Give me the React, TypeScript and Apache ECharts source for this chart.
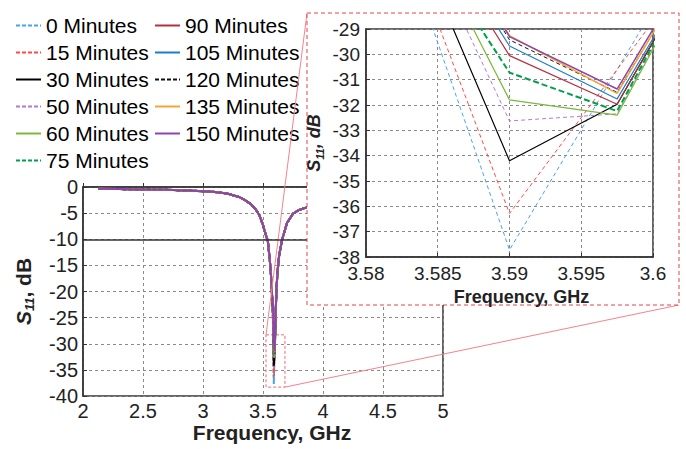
import React, { useEffect, useRef } from 'react';
import * as echarts from 'echarts';

const seriesNames = [
  '0 Minutes', '15 Minutes', '30 Minutes', '50 Minutes', '60 Minutes', '75 Minutes',
  '90 Minutes', '105 Minutes', '120 Minutes', '135 Minutes', '150 Minutes',
];
const lineColors = [
  '#4aa3e8', '#ff4848', '#000000', '#b07ccc', '#7cb83a', '#00a04a',
  '#b8303f', '#1a7fc8', '#111111', '#f0a830', '#8e44ad',
];
const lineDashed = [true, true, false, true, false, true, false, false, true, false, false];
const insetWidths = [1, 1, 1.2, 1, 1.2, 2, 1.2, 1.2, 1, 1.5, 1.5];

// common part of the response (all series overlap here)
const freqLeft = [2.13, 2.3, 2.5, 2.7, 2.9, 3.0, 3.1, 3.2, 3.3, 3.35, 3.4, 3.44, 3.47, 3.5, 3.52, 3.54, 3.555, 3.567, 3.575];
const s11Left = [-0.35, -0.4, -0.48, -0.55, -0.7, -0.8, -0.95, -1.25, -1.9, -2.5, -3.3, -4.3, -5.4, -7.3, -8.9, -10.3, -13.5, -17.0, -20.5];
// resonance region, one row per series
const freqNear = [3.5825, 3.59, 3.5975, 3.605];
const s11Near = [
  [-25.45, -37.72, -30.6, -23.5],
  [-25.0, -36.28, -30.6, -24.9],
  [-24.25, -34.2, -31.97, -24.6],
  [-23.56, -32.63, -32.35, -24.5],
  [-23.47, -31.8, -32.4, -24.6],
  [-24.2, -30.72, -32.24, -24.4],
  [-23.3, -30.05, -31.97, -24.5],
  [-23.0, -29.67, -31.76, -24.6],
  [-22.5, -29.43, -31.5, -24.5],
  [-22.3, -29.26, -31.54, -24.4],
  [-22.3, -29.3, -31.37, -24.3],
];
const freqRight = [3.6125, 3.62, 3.635, 3.66, 3.7, 3.75, 3.8, 3.85, 3.9, 4.0, 4.25, 4.5, 4.75, 5.0];
const s11Right = [-19.5, -16.5, -13, -10, -6.9, -5.1, -4.4, -4.0, -3.8, -3.6, -3.2, -2.9, -2.7, -2.5];

const mainXTicks = { min: 2, max: 5, interval: 0.5 };
const mainYTicks = { min: -40, max: 0, interval: 5 };
const insetXTicks = { min: 3.58, max: 3.6, interval: 0.005 };
const insetYTicks = { min: -38, max: -29, interval: 1 };
const thresholdDb = -10;
const zoomBox = { x0: 3.525, x1: 3.683, y0: -28.3, y1: -38.3 };

const FONT = 'Liberation Sans, Arial, Helvetica, sans-serif';
const MAIN = { left: 83, top: 187, width: 360, height: 209 };
const INSET = { left: 366, top: 29, width: 287, height: 228 };
const FRAME = { x: 307, y: 13, w: 372, h: 292 };

function mainPx(x: number, y: number): [number, number] {
  return [
    MAIN.left + ((x - mainXTicks.min) / (mainXTicks.max - mainXTicks.min)) * MAIN.width,
    MAIN.top + ((mainYTicks.max - y) / (mainYTicks.max - mainYTicks.min)) * MAIN.height,
  ];
}

function seriesData(i: number) {
  return [
    ...freqLeft.map((f, k) => [f, s11Left[k]]),
    ...freqNear.map((f, k) => [f, s11Near[i][k]]),
    ...freqRight.map((f, k) => [f, s11Right[k]]),
  ];
}

const splitStyle = { show: true, lineStyle: { color: '#8a8a8a', width: 1, type: [3, 3] as any } };
const axisLineStyle = { show: true, lineStyle: { color: '#333', width: 1.5 } };
const tickStyle = { show: true, inside: true, length: 4, lineStyle: { color: '#333' } };

function yTitle(size: number, italicDb: boolean) {
  return {
    s: { fontSize: size, fontWeight: 'bold', fontStyle: 'italic', fontFamily: FONT, color: '#222', lineHeight: size + 4 },
    sub: { fontSize: Math.round(size * 0.62), fontWeight: 'bold', fontStyle: 'italic', fontFamily: FONT, color: '#222', lineHeight: Math.round(size * 0.62), verticalAlign: 'bottom' },
    t: { fontSize: size, fontWeight: 'bold', fontStyle: italicDb ? 'italic' : 'normal', fontFamily: FONT, color: '#222', lineHeight: size + 4 },
  };
}

export default function App() {
  const ref = useRef<HTMLDivElement>(null);
  useEffect(() => {
    if (!ref.current) return;
    const chart = echarts.init(ref.current, null, { renderer: 'svg' });
    const series: any[] = [];
    seriesNames.forEach((name, i) => {
      const s: any = {
        name,
        type: 'line',
        xAxisIndex: 0,
        yAxisIndex: 0,
        data: seriesData(i),
        symbol: 'none',
        z: 2,
        lineStyle: { color: lineColors[i], width: 2, type: lineDashed[i] ? [4, 2] : 'solid' },
        itemStyle: { color: lineColors[i] },
      };
      if (i === 0) {
        s.markLine = {
          silent: true,
          symbol: ['none', 'none'],
          label: { show: false },
          lineStyle: { color: '#333', width: 1.5, type: 'solid' },
          data: [{ yAxis: thresholdDb }],
        };
      }
      if (i === seriesNames.length - 1) {
        s.markArea = {
          silent: true,
          itemStyle: { color: 'rgba(0,0,0,0)', borderColor: '#f06a78', borderWidth: 1, borderType: [3, 2] },
          data: [[{ coord: [zoomBox.x0, zoomBox.y0] }, { coord: [zoomBox.x1, zoomBox.y1] }]],
        };
      }
      series.push(s);
    });
    seriesNames.forEach((name, i) => {
      series.push({
        name,
        type: 'line',
        xAxisIndex: 1,
        yAxisIndex: 1,
        data: seriesData(i),
        symbol: 'none',
        z: 12,
        clip: true,
        lineStyle: {
          color: lineColors[i],
          width: insetWidths[i],
          type: lineDashed[i] ? (insetWidths[i] > 1.5 ? [6, 3] : [4, 3]) : 'solid',
        },
        itemStyle: { color: lineColors[i] },
      });
    });

    const p1 = mainPx(zoomBox.x0, zoomBox.y0);
    const p2 = mainPx(zoomBox.x1, zoomBox.y1);

    const legendBase = {
      orient: 'vertical',
      top: 10,
      itemWidth: 25,
      itemHeight: 14,
      itemGap: 6,
      itemStyle: { color: 'rgba(0,0,0,0)', borderWidth: 0, opacity: 0 },
      textStyle: { fontSize: 21, lineHeight: 21, color: '#000', fontFamily: FONT },
    };

    chart.setOption({
      animation: false,
      backgroundColor: '#fff',
      legend: [
        { ...legendBase, left: 10, data: seriesNames.slice(0, 6) },
        { ...legendBase, left: 149, data: seriesNames.slice(6) },
      ],
      grid: [
        { ...MAIN, show: true, borderColor: '#333', borderWidth: 1.5, backgroundColor: 'transparent', z: 0 },
        { ...INSET, show: true, borderColor: '#333', borderWidth: 1.5, backgroundColor: 'transparent', z: 11 },
      ],
      xAxis: [
        {
          type: 'value', gridIndex: 0, ...mainXTicks, z: 0,
          axisLine: axisLineStyle, axisTick: tickStyle, splitLine: splitStyle,
          axisLabel: { fontSize: 20, color: '#222', fontFamily: FONT, margin: 5, showMinLabel: true, showMaxLabel: true, hideOverlap: false },
          name: 'Frequency, GHz', nameLocation: 'middle', nameGap: 26,
          nameTextStyle: { fontSize: 21, fontWeight: 'bold', color: '#222', fontFamily: FONT, padding: [0, 0, 0, 18] },
        },
        {
          type: 'value', gridIndex: 1, ...insetXTicks, z: 11,
          axisLine: axisLineStyle, axisTick: tickStyle, splitLine: splitStyle,
          axisLabel: {
            fontSize: 19, lineHeight: 19, color: '#222', fontFamily: FONT, margin: 7, showMinLabel: true, showMaxLabel: true, hideOverlap: false,
            formatter: (v: number) => String(+v.toFixed(3)),
          },
          name: 'Frequency, GHz', nameLocation: 'middle', nameGap: 24,
          nameTextStyle: { fontSize: 18, fontWeight: 'bold', color: '#222', fontFamily: FONT, padding: [0, 0, 0, 24] },
        },
      ],
      yAxis: [
        {
          type: 'value', gridIndex: 0, ...mainYTicks, z: 0,
          axisLine: axisLineStyle, axisTick: tickStyle, splitLine: splitStyle,
          axisLabel: { fontSize: 20, color: '#222', fontFamily: FONT, margin: 5 },
          name: '{s|S}{sub|11}{t|, dB}', nameLocation: 'middle', nameGap: 47, nameRotate: 90,
          nameTextStyle: { rich: yTitle(21, false) },
        },
        {
          type: 'value', gridIndex: 1, ...insetYTicks, z: 11,
          axisLine: axisLineStyle, axisTick: tickStyle, splitLine: splitStyle,
          axisLabel: { fontSize: 19, lineHeight: 19, color: '#222', fontFamily: FONT, margin: 6 },
          name: '{s|S}{sub|11}{t|, dB}', nameLocation: 'middle', nameGap: 41, nameRotate: 90,
          nameTextStyle: { rich: yTitle(18, true) },
        },
      ],
      graphic: [
        {
          type: 'line', z: 5, silent: true,
          shape: { x1: p1[0], y1: p1[1], x2: FRAME.x, y2: FRAME.y },
          style: { stroke: '#f5828c', lineWidth: 1 },
        },
        {
          type: 'line', z: 5, silent: true,
          shape: { x1: p2[0], y1: p2[1], x2: FRAME.x + FRAME.w, y2: FRAME.y + FRAME.h },
          style: { stroke: '#f5828c', lineWidth: 1 },
        },
        {
          type: 'rect', z: 10, silent: true,
          shape: { x: FRAME.x, y: FRAME.y, width: FRAME.w, height: FRAME.h },
          style: { fill: '#fff', stroke: '#e8404e', lineWidth: 1, lineDash: [4, 3] },
        },
      ],
      series,
    });
    return () => chart.dispose();
  }, []);
  return <div ref={ref} style={{ width: 686, height: 449, position: 'absolute', left: 0, top: 0 }} />;
}
